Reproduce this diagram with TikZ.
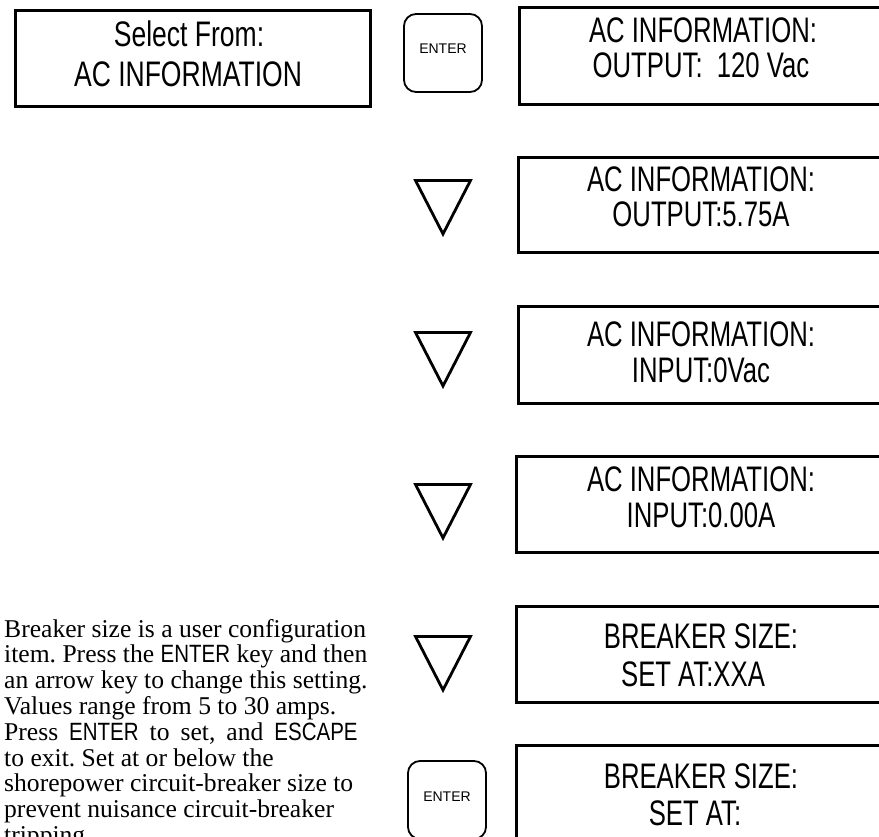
\documentclass[tikz,border=0pt]{standalone}
\usepackage{fontspec}
\setmainfont{Liberation Serif}
\newfontfamily\lcdfont[FakeStretch=0.724]{Liberation Sans}
\newfontfamily\lcdfontL[FakeStretch=0.747]{Liberation Sans}
\newfontfamily\keyfont{Liberation Sans}
\newfontfamily\inlinesans[FakeStretch=0.82]{Liberation Sans}
\newcommand{\keyword}[1]{{\inlinesans\fontsize{25}{25}\selectfont #1}}
\begin{document}
\frenchspacing
\begin{tikzpicture}[x=1pt,y=-1pt,
  lcdbox/.style={draw=black, line width=3pt, minimum width=372pt, inner sep=0pt, anchor=north west},
  selbox/.style={draw=black, line width=3pt, minimum width=355pt, minimum height=96pt, inner sep=0pt, anchor=north west},
  lcdtext/.style={inner sep=0pt, anchor=base, font=\lcdfont\fontsize{35.5}{35.5}\selectfont},
  seltext/.style={inner sep=0pt, anchor=base, font=\lcdfontL\fontsize{35.5}{35.5}\selectfont},
  keybox/.style={draw=black, line width=1.8pt, rounded corners=12pt, minimum width=78pt, minimum height=78pt,
    inner sep=0pt, text height=10pt, text depth=8pt, font=\keyfont\fontsize{14}{14}\selectfont},
  arrowkey/.style={draw=black, line width=2.8pt, line join=miter},
  para/.style={inner sep=0pt, anchor=base west, font=\fontsize{25.6}{25.6}\selectfont}]
\clip (0,0) rectangle (879,837);
\fill[white] (0,0) rectangle (879,837);

% selection box
\node[selbox] (sel) at (13.5,9.5) {};
\node[seltext] (sela) at (189,47) {Select From:};
\node[seltext] (selb) at (188,87) {AC INFORMATION};

% enter keys
\node[keybox] (k1) at (443,53) {ENTER};
\node[keybox] (k2) at (447,800) {ENTER};

% LCD boxes
\node[lcdbox, minimum height=97pt] (b1) at (517.5,6.5) {};
\node[lcdbox, minimum height=95pt] (b2) at (516.5,156.5) {};
\node[lcdbox, minimum height=96pt] (b3) at (516.5,305.5) {};
\node[lcdbox, minimum height=96pt] (b4) at (514.5,454.5) {};
\node[lcdbox, minimum height=96pt] (b5) at (514.5,604.5) {};
\node[lcdbox, minimum height=96pt] (b6) at (514.5,743.5) {};

\node[lcdtext] (t1a) at (703,42.5) {AC INFORMATION:};
\node[lcdtext] (t1b) at (701,78) {OUTPUT:\ \ 120 Vac};
\node[lcdtext] (t2a) at (701,192) {AC INFORMATION:};
\node[lcdtext] (t2b) at (701,227) {OUTPUT:5.75A};
\node[lcdtext] (t3a) at (701,346.5) {AC INFORMATION:};
\node[lcdtext] (t3b) at (701,382) {INPUT:0Vac};
\node[lcdtext] (t4a) at (701,491.5) {AC INFORMATION:};
\node[lcdtext] (t4b) at (701,527) {INPUT:0.00A};
\node[lcdtext] (t5a) at (701,648.5) {BREAKER SIZE:};
\node[lcdtext] (t5b) at (693,686) {SET AT:XXA};
\node[lcdtext] (t6a) at (701,788.5) {BREAKER SIZE:};
\node[lcdtext] (t6b) at (695,825) {SET AT:};

% arrow keys (down triangles)
\foreach \ty in {179,331,483,635}{
  \draw[arrowkey] (415.5,\ty+1.5) -- (470.5,\ty+1.5) -- (443,\ty+55) -- cycle;
}

% explanatory paragraph
\node[para] (p1) at (4,637) {Breaker size is a user configuration};
\node[para] (p2) at (4,662.8) {item. Press the \keyword{ENTER} key and then};
\node[para] (p3) at (4,688.6) {an arrow key to change this setting.};
\node[para] (p4) at (4,714.4) {Values range from 5 to 30 amps.};
\node[para] (p5) at (4,740.2) {\spaceskip=11pt plus 1pt Press \keyword{ENTER} to set, and \keyword{ESCAPE}};
\node[para] (p6) at (4,766) {to exit. Set at or below the};
\node[para] (p7) at (4,791.8) {shorepower circuit-breaker size to};
\node[para] (p8) at (4,817.6) {prevent nuisance circuit-breaker};
\node[para] (p9) at (4,843.4) {tripping.};
\end{tikzpicture}
\end{document}
